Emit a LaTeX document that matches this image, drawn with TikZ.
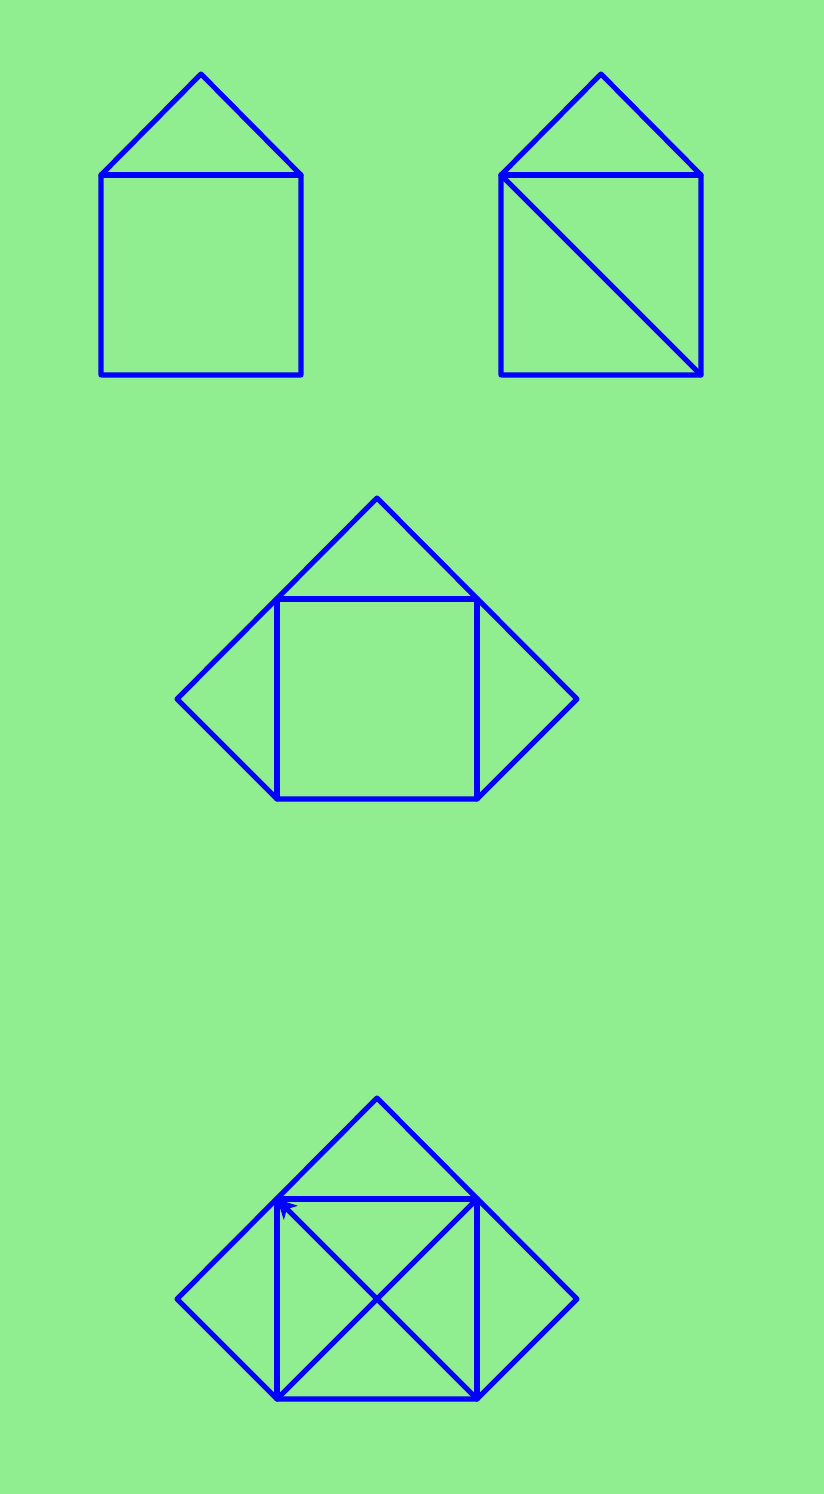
\documentclass[tikz,border=0pt]{standalone}
\usepackage{tikz}
\usetikzlibrary{arrows.meta}
\definecolor{lightgreen}{HTML}{90EE90}
\tikzstyle{edge} = [draw=blue, line width=1.45pt, line cap=round, line join=round]
\tikzstyle{arrow} = [edge, -{Stealth[length=5.5pt,width=5.5pt,inset=1.5pt]}]

\begin{document}
\begin{tikzpicture}

% Sfondo
\fill[lightgreen] (0,0) rectangle (8.24,14.94);
\useasboundingbox (0,0) rectangle (8.24,14.94);

% Casa 1
\coordinate (aTop) at (2.01,14.20);
\coordinate (aNW) at (1.01,13.19);
\coordinate (aNE) at (3.01,13.19);
\coordinate (aSE) at (3.01,11.19);
\coordinate (aSW) at (1.01,11.19);

% Casa 2
\coordinate (bTop) at (6.01,14.20);
\coordinate (bNW) at (5.01,13.19);
\coordinate (bNE) at (7.01,13.19);
\coordinate (bSE) at (7.01,11.19);
\coordinate (bSW) at (5.01,11.19);

% Figura 3
\coordinate (cTop) at (3.77,9.96);
\coordinate (cW) at (1.77,7.95);
\coordinate (cE) at (5.77,7.95);
\coordinate (cNW) at (2.77,8.95);
\coordinate (cNE) at (4.77,8.95);
\coordinate (cSE) at (4.77,6.95);
\coordinate (cSW) at (2.77,6.95);

% Figura 4
\coordinate (dTop) at (3.77,3.96);
\coordinate (dW) at (1.77,1.95);
\coordinate (dE) at (5.77,1.95);
\coordinate (dNW) at (2.77,2.95);
\coordinate (dNE) at (4.77,2.95);
\coordinate (dSE) at (4.77,0.95);
\coordinate (dSW) at (2.77,0.95);

% Linee
\draw [edge] (aNW) -- (aTop) -- (aNE) -- (aSE) -- (aSW) -- cycle;
\draw [edge] (aNW) -- (aNE);

\draw [edge] (bNW) -- (bTop) -- (bNE) -- (bSE) -- (bSW) -- cycle;
\draw [edge] (bNW) -- (bNE);
\draw [edge] (bNW) -- (bSE);

\draw [edge] (cW) -- (cTop) -- (cE) -- (cSE) -- (cSW) -- cycle;
\draw [edge] (cNW) -- (cNE) -- (cSE);
\draw [edge] (cNW) -- (cSW);

\draw [edge] (dW) -- (dTop) -- (dE) -- (dSE) -- (dSW) -- cycle;
\draw [edge] (dNW) -- (dNE) -- (dSE);
\draw [edge] (dNW) -- (dSW);
\draw [edge] (dSW) -- (dNE);
\draw [arrow] (dSE) -- (dNW);

\end{tikzpicture}
\end{document}
